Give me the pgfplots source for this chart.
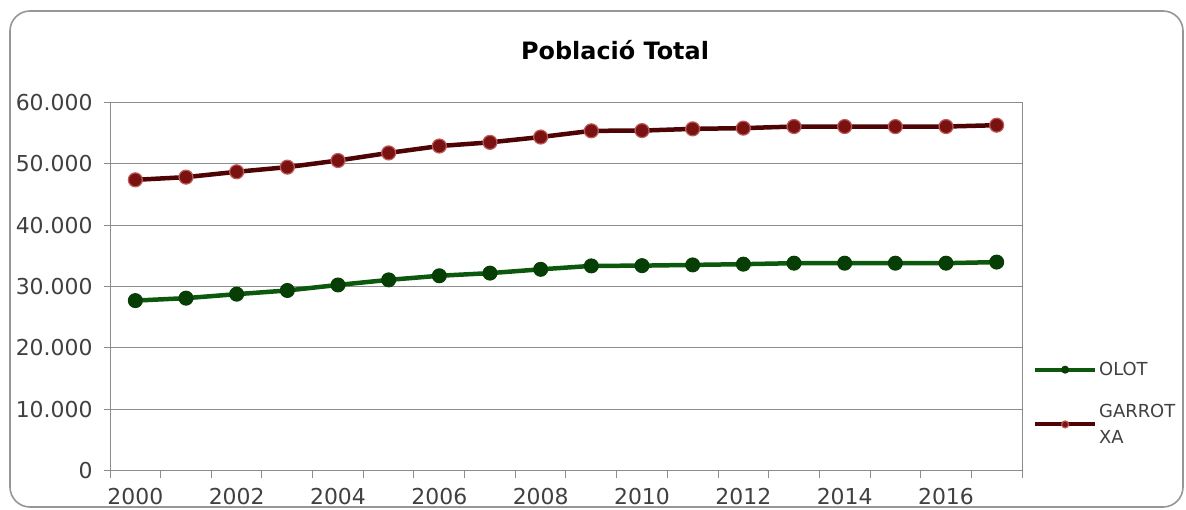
\documentclass[border=0pt]{standalone}
\usepackage{pgfplots}
\pgfplotsset{compat=1.18}
\usepackage{fontspec}
\setmainfont{DejaVu Sans}

\definecolor{olotline}{RGB}{12,88,12}
\definecolor{olotmark}{RGB}{6,62,6}
\definecolor{garline}{RGB}{78,4,4}
\definecolor{garmark}{RGB}{122,18,18}
\definecolor{garhalo}{RGB}{190,90,90}
\definecolor{gridgray}{RGB}{140,140,140}
\definecolor{labelgray}{RGB}{64,64,64}
\definecolor{framegray}{RGB}{150,150,150}

\begin{document}
\begin{tikzpicture}
\useasboundingbox (0,0) rectangle (1186bp,510bp);
\draw [framegray, line width=1.6bp, rounded corners=20bp] (10bp,3bp) rectangle (1183bp,499bp);
\node [font=\fontsize{24}{28}\selectfont\bfseries, text=black] at (615bp,460bp) {Població Total};

\begin{axis}[
at={(110bp,39.5bp)}, anchor=south west,
scale only axis,
width=912bp, height=368bp,
xmin=1999.5, xmax=2017.5,
ymin=0, ymax=60000,
axis line style={gridgray, line width=1bp},
ymajorgrids,
y grid style={gridgray, line width=1bp},
tick align=outside,
tick pos=left,
xtick={2000,2002,...,2016},
major x tick style={draw=none},
minor xtick={1999.5,2000.5,...,2017.5},
minor x tick style={gridgray, line width=1bp},
minor tick length=7bp,
ytick={0,10000,...,60000},
y tick style={gridgray, line width=1bp},
major tick length=6bp,
scaled y ticks=false,
ticklabel style={font=\fontsize{22}{26}\selectfont, text=labelgray},
x tick label style={yshift=-8bp, /pgf/number format/.cd, 1000 sep={}, assume math mode=true},
y tick label style={xshift=-8bp, /pgf/number format/.cd, 1000 sep={.}, assume math mode=true},
legend style={draw=none, fill=none, at={(axis description cs:1.012,0.30)}, anchor=north west,
  font=\fontsize{18}{26}\selectfont, text=labelgray, inner sep=0pt, row sep=23bp,
  cells={anchor=west, align=left}},
legend image code/.code={
  \draw[mark repeat=2, mark phase=2, #1, line width=4bp, mark size=3.5bp] plot coordinates {(0bp,0bp) (30bp,0bp) (60bp,0bp)};
},
clip=false,
]
\addplot [line width=4.5bp, olotline, mark=*, mark size=7bp,
  mark options={fill=olotmark, draw=olotmark, line width=1bp}]
coordinates {
(2000,27700) (2001,28100) (2002,28750) (2003,29350) (2004,30250) (2005,31080)
(2006,31750) (2007,32180) (2008,32800) (2009,33360) (2010,33400) (2011,33520)
(2012,33640) (2013,33800) (2014,33800) (2015,33800) (2016,33800) (2017,33980)
};
\addlegendentry{OLOT}
\addplot [line width=4.5bp, garline, mark=*, mark size=7bp,
  mark options={fill=garmark, draw=garhalo, line width=1.2bp}]
coordinates {
(2000,47390) (2001,47830) (2002,48700) (2003,49460) (2004,50540) (2005,51780)
(2006,52900) (2007,53500) (2008,54370) (2009,55380) (2010,55420) (2011,55700)
(2012,55820) (2013,56080) (2014,56080) (2015,56070) (2016,56080) (2017,56300)
};
\addlegendentry{GARROT\\XA}
\end{axis}
\end{tikzpicture}
\end{document}
